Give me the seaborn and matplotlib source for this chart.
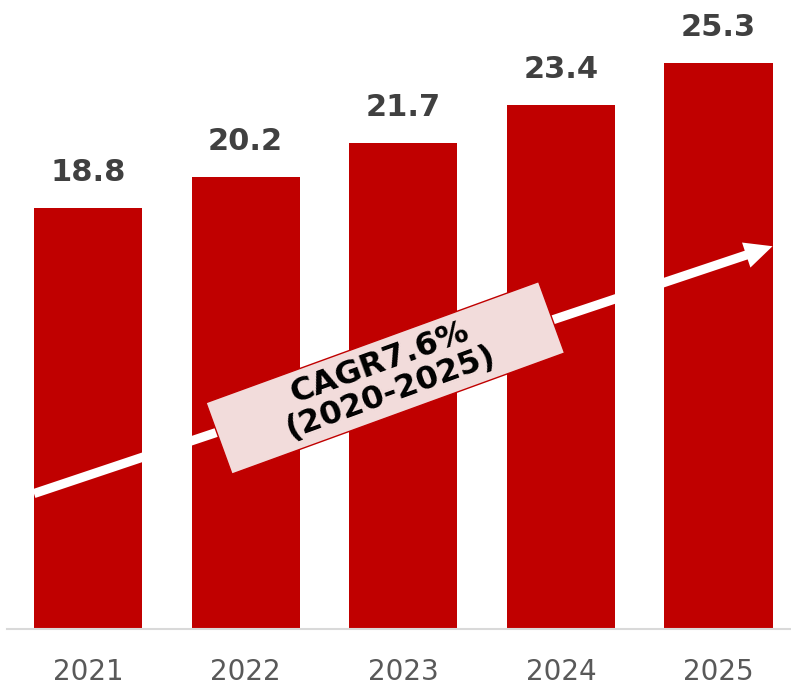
import matplotlib
matplotlib.use("Agg")
import matplotlib.pyplot as plt
import matplotlib.transforms as mtransforms
from matplotlib.patches import Rectangle
import pandas as pd
import seaborn as sns

# chart data
years = ["2021", "2022", "2023", "2024", "2025"]
values = [18.8, 20.2, 21.7, 23.4, 25.3]
cagr_label = "CAGR7.6%\n(2020-2025)"

bar_color = "#C00000"
bar_width = 0.686

df = pd.DataFrame({"Year": years, "Value": values})

sns.set_style("white")
plt.rcParams["font.family"] = ["DejaVu Sans"]

fig = plt.figure(figsize=(7.91, 6.88), dpi=100)
ax = fig.add_axes([7 / 791, 59 / 688, 784 / 791, 629 / 688])

sns.barplot(data=df, x="Year", y="Value", color=bar_color, width=bar_width,
            saturation=1, ax=ax, edgecolor="none")

ax.set_xlim(-0.514, 4.46)
ax.set_ylim(0, 28.1)

# value labels above bars
for i, v in enumerate(values):
    ax.annotate(f"{v:.1f}", (i, v), xytext=(0, 15), textcoords="offset points",
                ha="center", va="bottom", fontsize=22, fontweight="bold",
                color="#404040")

# growth arrow from first bar's left edge to last bar's right edge
arrow_start = (-bar_width / 2, 6.05)
arrow_end = (len(years) - 1 + bar_width / 2, 17.1)
ax.annotate("", xy=arrow_end, xytext=arrow_start,
            arrowprops=dict(arrowstyle="simple,head_length=1.0,head_width=0.95,tail_width=0.33",
                            mutation_scale=20, facecolor="white", edgecolor="none",
                            lw=0, shrinkA=0, shrinkB=0))

# rotated CAGR box
cx, cy = 1.886, 11.22
trans = (mtransforms.Affine2D().rotate_deg(20) + fig.dpi_scale_trans
         + mtransforms.ScaledTranslation(cx, cy, ax.transData))
ax.add_patch(Rectangle((-1.77, -0.38), 3.54, 0.76, transform=trans,
                       facecolor="#F2DCDB", edgecolor=bar_color, lw=1, zorder=5))
ax.text(cx, cy, cagr_label, rotation=20, rotation_mode="anchor",
        ha="center", va="center", multialignment="center",
        fontsize=23, fontweight="bold", color="black", zorder=6,
        linespacing=1.0)

# axes styling
sns.despine(ax=ax, left=True, top=True, right=True)
ax.spines["bottom"].set_color("#D9D9D9")
ax.spines["bottom"].set_linewidth(1.5)
ax.set_yticks([])
ax.set_xlabel("")
ax.set_ylabel("")
ax.tick_params(axis="x", length=0, pad=21)
for lbl in ax.get_xticklabels():
    lbl.set_fontsize(20)
    lbl.set_color("#595959")

fig.savefig("out.png", dpi=100)
